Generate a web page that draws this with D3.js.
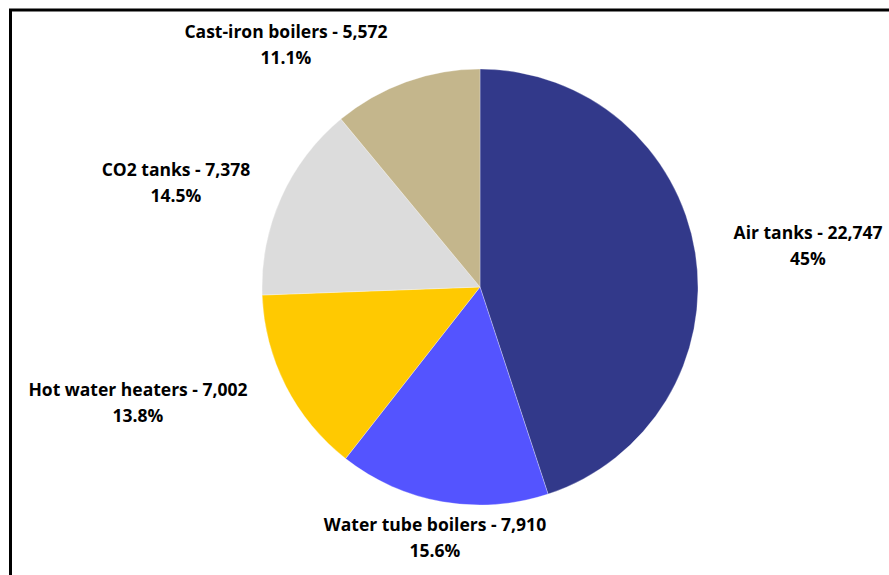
<!DOCTYPE html>
<html><head><meta charset="utf-8">
<script src="https://cdn.jsdelivr.net/npm/d3@7"></script>
<style>html,body{margin:0;padding:0;background:#fff;}svg{display:block;}</style>
</head><body>
<svg id="chart" width="889" height="575"></svg>
<script>
// ---- data ----
const categories = ["Air tanks", "Water tube boilers", "Hot water heaters", "CO2 tanks", "Cast-iron boilers"];
const values = [22747, 7910, 7002, 7378, 5572];
const percentLabels = ["45%", "15.6%", "13.8%", "14.5%", "11.1%"];
const colors = ["#32398a", "#5454ff", "#ffc901", "#dcdcdc", "#c4b68c"];

// ---- layout (not data) ----
const W = 889, H = 575, cx = 480, cy = 287, R = 218;
const labelCenters = [[808, 246], [435, 538], [138, 403], [176, 183], [286, 45]];

const svg = d3.select("#chart");
svg.append("rect").attr("width", W).attr("height", H).attr("fill", "#fff");
svg.append("path").attr("d", `M10.5,${H} L10.5,10 L${W},10`).attr("fill", "none").attr("stroke", "#000").attr("stroke-width", 3);

const pie = d3.pie().sort(null).value(d => d.v);
const data = categories.map((c, i) => ({c, v: values[i], p: percentLabels[i], col: colors[i]}));
const arcs = pie(data);
const arc = d3.arc().innerRadius(0).outerRadius(R);

const g = svg.append("g").attr("transform", `translate(${cx},${cy})`);
g.selectAll("path").data(arcs).join("path")
  .attr("d", arc).attr("fill", d => d.data.col)
  .attr("stroke", "#fff").attr("stroke-width", 0.3);

const fmt = d3.format(",");
const lab = svg.append("g").attr("font-family", "'Open Sans', Lato, sans-serif").attr("font-weight", 700)
  .attr("font-size", 17.5).attr("fill", "#000").attr("text-anchor", "middle");
arcs.forEach((a, i) => {
  const [x, y] = labelCenters[i];
  const t = lab.append("text").attr("x", x).attr("y", y - 7);
  t.append("tspan").attr("x", x).text(`${a.data.c} - ${fmt(a.data.v)}`);
  t.append("tspan").attr("x", x).attr("dy", 26).text(a.data.p);
});
</script>
</body></html>
